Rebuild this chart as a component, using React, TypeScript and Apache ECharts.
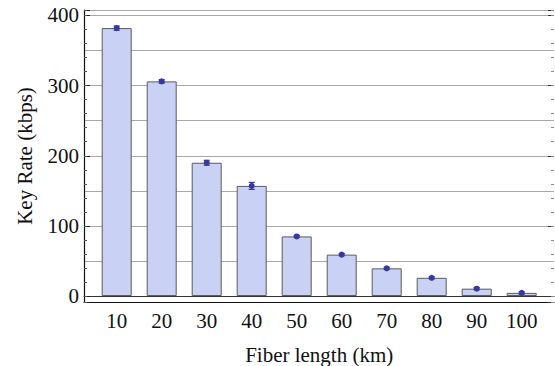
import React, { useEffect, useRef } from "react";
import * as echarts from "echarts";

const categories = ["10", "20", "30", "40", "50", "60", "70", "80", "90", "100"];
const keyRate = [382, 306, 190, 157, 85, 59, 39.5, 26, 10.5, 4.5];
const keyRateErr = [3, 2.5, 3.5, 5, 1.5, 1.5, 1.5, 1.5, 1.5, 1.5];

const Y_MIN = -8.5;
const Y_MAX = 407.8;
const FONT = "Liberation Serif";

export default function App() {
  const ref = useRef<HTMLDivElement>(null);
  useEffect(() => {
    if (!ref.current) return;
    const chart = echarts.init(ref.current, undefined, { renderer: "svg" });
    const baseY = { min: Y_MIN, max: Y_MAX, type: "value" as const };
    const hidden = { show: false };
    const option: any = {
      animation: false,
      backgroundColor: "#fff",
      grid: [
        { left: 84, top: 10, width: 470, height: 292, containLabel: false, outerBoundsMode: "none" },
        { left: 94.2, top: 10, width: 450, height: 292, containLabel: false, outerBoundsMode: "none" },
      ],
      xAxis: [
        {
          gridIndex: 0,
          type: "value",
          position: "top",
          min: 0,
          max: 1,
          axisLine: { show: true, lineStyle: { color: "#333", width: 1.2 } },
          axisTick: hidden,
          axisLabel: hidden,
          splitLine: hidden,
        },
        {
          gridIndex: 0,
          type: "value",
          position: "bottom",
          min: 0,
          max: 1,
          axisLine: { show: true, onZero: false, lineStyle: { color: "#111", width: 1.2 } },
          axisTick: hidden,
          axisLabel: hidden,
          splitLine: hidden,
        },
        {
          gridIndex: 1,
          type: "category",
          data: categories,
          position: "bottom",
          axisLine: { show: false, onZero: false },
          axisTick: hidden,
          axisLabel: { fontFamily: FONT, fontSize: 21, color: "#111", margin: 8 },
          name: "Fiber length (km)",
          nameLocation: "middle",
          nameGap: 42,
          nameTextStyle: { fontFamily: FONT, fontSize: 21, color: "#111" },
        },
      ],
      yAxis: [
        {
          ...baseY,
          gridIndex: 0,
          splitNumber: 8,
          axisLine: hidden,
          axisTick: hidden,
          axisLabel: hidden,
          splitLine: { show: true, lineStyle: { color: "#a8a8a8", width: 1 } },
        },
        {
          ...baseY,
          gridIndex: 0,
          position: "left",
          splitNumber: 5,
          axisLine: { show: true, onZero: false, lineStyle: { color: "#111", width: 1.2 } },
          axisTick: { show: true, inside: true, length: 6, lineStyle: { color: "#222" } },
          axisLabel: {
            fontFamily: FONT,
            fontSize: 21,
            color: "#111",
            margin: 5,
            formatter: (v: number) => (Math.abs(v % 100) < 1e-6 ? String(v) : ""),
          },
          splitLine: hidden,
          name: "Key Rate (kbps)",
          nameLocation: "middle",
          nameGap: 48.5,
          nameTextStyle: { fontFamily: FONT, fontSize: 21, color: "#111" },
        },
        {
          ...baseY,
          gridIndex: 0,
          position: "left",
          splitNumber: 21,
          axisLine: hidden,
          axisTick: { show: true, inside: true, length: 3, lineStyle: { color: "#555" } },
          axisLabel: hidden,
          splitLine: hidden,
        },
        {
          ...baseY,
          gridIndex: 0,
          position: "right",
          splitNumber: 5,
          axisLine: { show: false },
          axisTick: { show: true, inside: true, length: 6, lineStyle: { color: "#333" } },
          axisLabel: hidden,
          splitLine: hidden,
        },
        {
          ...baseY,
          gridIndex: 0,
          position: "right",
          splitNumber: 21,
          axisLine: hidden,
          axisTick: { show: true, inside: true, length: 3, lineStyle: { color: "#888" } },
          axisLabel: hidden,
          splitLine: hidden,
        },
        { ...baseY, gridIndex: 1, show: false },
      ],
      series: [
        {
          type: "bar",
          xAxisIndex: 2,
          yAxisIndex: 5,
          data: keyRate,
          barWidth: 30,
          itemStyle: { color: "#c9d1f5", borderColor: "#5a5a5a", borderWidth: 1 },
        },
        {
          type: "custom",
          xAxisIndex: 2,
          yAxisIndex: 5,
          data: keyRate.map((v, i) => [i, v, keyRateErr[i]]),
          renderItem: (params: any, api: any) => {
            const i = api.value(0);
            const v = api.value(1);
            const e = api.value(2);
            const top = api.coord([i, v + e]);
            const bot = api.coord([i, v - e]);
            const mid = api.coord([i, v]);
            const c = "#3838a0";
            const hw = 3;
            return {
              type: "group",
              children: [
                { type: "line", shape: { x1: top[0], y1: top[1], x2: bot[0], y2: bot[1] }, style: { stroke: c, lineWidth: 1.2 } },
                { type: "line", shape: { x1: top[0] - hw, y1: top[1], x2: top[0] + hw, y2: top[1] }, style: { stroke: c, lineWidth: 1.2 } },
                { type: "line", shape: { x1: bot[0] - hw, y1: bot[1], x2: bot[0] + hw, y2: bot[1] }, style: { stroke: c, lineWidth: 1.2 } },
                { type: "circle", shape: { cx: mid[0], cy: mid[1], r: 3 }, style: { fill: c } },
              ],
            };
          },
          z: 5,
        },
      ],
    };
    chart.setOption(option);
    return () => chart.dispose();
  }, []);
  return <div ref={ref} style={{ width: 555, height: 366, position: "absolute", left: 0, top: 0 }} />;
}
